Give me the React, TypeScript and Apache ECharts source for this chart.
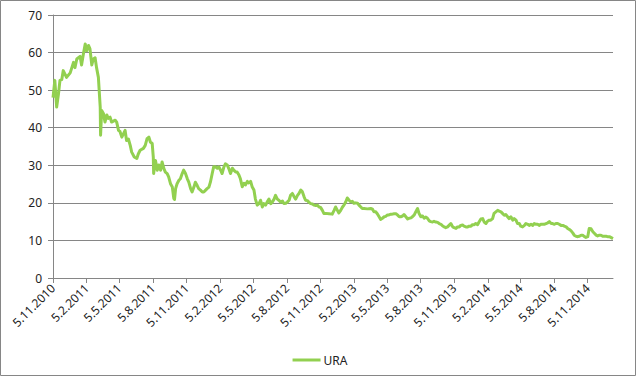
import React, { useEffect, useRef } from "react";
import * as echarts from "echarts";

// Start date of the axis (5.11.2010) and last axis day offset
const startDate = [2010, 10, 5]; // year, month(0-based), day
const lastDay = 1530;

// Data: days since 5.11.2010 and URA closing values
const days = [
  0, 5, 10, 15, 19, 24, 28, 37, 47, 56, 60, 65, 74, 78, 83, 88, 92, 97, 101, 106,
  110, 115, 119, 124, 129, 130, 133, 138, 142, 147, 151, 156, 160, 170, 174, 179, 183, 188, 197, 201,
  206, 211, 215, 222, 229, 233, 238, 247, 252, 257, 262, 266, 271, 274, 275, 280, 285, 289, 294, 298,
  303, 307, 312, 316, 321, 326, 330, 332, 335, 339, 344, 348, 353, 357, 362, 367, 371, 376, 380, 385,
  389, 394, 398, 403, 408, 412, 417, 421, 426, 430, 435, 439, 444, 449, 453, 458, 462, 467, 471, 476,
  480, 485, 490, 494, 499, 503, 508, 512, 517, 522, 526, 531, 535, 540, 544, 549, 553, 558, 563, 567,
  572, 576, 581, 585, 590, 595, 599, 604, 608, 613, 617, 622, 627, 631, 636, 640, 645, 649, 654, 659,
  663, 668, 672, 677, 681, 686, 690, 695, 699, 704, 709, 713, 718, 722, 727, 731, 736, 740, 745, 754,
  763, 768, 772, 777, 781, 786, 791, 795, 800, 804, 809, 813, 818, 822, 827, 832, 836, 841, 845, 850,
  859, 868, 873, 877, 882, 886, 891, 895, 900, 905, 909, 914, 918, 923, 927, 932, 937, 941, 946, 950,
  955, 959, 964, 969, 973, 978, 982, 987, 991, 996, 1000, 1005, 1010, 1014, 1019, 1023, 1028, 1032, 1037, 1041,
  1046, 1051, 1055, 1060, 1064, 1069, 1073, 1078, 1082, 1087, 1092, 1096, 1101, 1105, 1110, 1114, 1119, 1123, 1128, 1133,
  1137, 1142, 1146, 1151, 1155, 1160, 1164, 1169, 1174, 1178, 1183, 1187, 1192, 1196, 1201, 1205, 1210, 1215, 1219, 1224,
  1228, 1233, 1237, 1242, 1246, 1251, 1256, 1260, 1265, 1269, 1274, 1278, 1283, 1288, 1292, 1297, 1301, 1306, 1311, 1315,
  1320, 1324, 1329, 1333, 1338, 1342, 1347, 1352, 1356, 1361, 1365, 1370, 1374, 1379, 1383, 1388, 1393, 1397, 1402, 1406,
  1411, 1415, 1420, 1424, 1429, 1434, 1438, 1443, 1447, 1452, 1456, 1461, 1465, 1470, 1475, 1479, 1484, 1488, 1493, 1497,
  1502, 1506, 1511, 1515, 1520, 1524, 1530,
];

const ura = [
  48, 52.6, 45.5, 49, 52.6, 52.8, 55.2, 53.4, 54.6, 57.4, 56, 58.3, 59, 56.7, 59.6, 62.3, 60.5, 61.9, 61, 56.7,
  58.3, 58.6, 56, 53.4, 45.5, 38, 44.6, 43.7, 41.5, 43.4, 42.5, 42.8, 41.5, 42, 41.5, 39.3, 39, 37.5, 39.3, 36.6,
  37, 35.3, 33.5, 32.2, 31.8, 33, 34, 34.5, 35.3, 37.1, 37.5, 36.2, 35.8, 32.2, 27.8, 31.3, 28.7, 30.1, 28.7, 30.9,
  29.1, 28.2, 27.8, 26.9, 25.1, 24.2, 21.2, 20.9, 23.8, 25.1, 26, 26.4, 27.8, 28.7, 27.8, 26.4, 25.5, 23.8, 22.9, 24.2,
  25.5, 24.6, 23.8, 23.4, 22.9, 22.9, 23.4, 23.8, 24.2, 25.5, 27.8, 29.6, 29.6, 29.2, 29.6, 28.7, 27.8, 29.6, 30.4, 30.1,
  29.2, 27.8, 29.2, 28.7, 28.2, 28.2, 27.4, 26.4, 24.3, 25.2, 24.8, 25.7, 25.3, 25.7, 24.3, 23.4, 21, 19.4, 19.8, 20.7,
  18.9, 19.8, 19.4, 20.2, 21, 19.8, 20.2, 21, 22, 21, 20.7, 20.2, 20.5, 19.8, 19.9, 20.2, 20.7, 22, 22.5, 21.6,
  21, 22, 22.5, 23.4, 23, 21.6, 20.7, 20.6, 20.2, 19.8, 19.7, 19.4, 19.3, 19.4, 18.9, 18.8, 18, 17.2, 17.2, 17.1,
  17, 18, 18.9, 18, 17.3, 18, 18.9, 19.4, 20.3, 21.3, 20.7, 20.3, 20.4, 19.9, 20, 19.9, 19.4, 18.9, 18.5, 18.5,
  18.4, 18.5, 18.3, 17.6, 17.6, 17.1, 16.3, 15.6, 15.9, 16.3, 16.4, 16.8, 16.8, 17, 17, 17.1, 17.1, 16.8, 16.3, 16.3,
  16.5, 16.9, 16.3, 15.7, 15.9, 16, 16.3, 16.8, 17.6, 18.5, 17.2, 16.3, 16.5, 15.9, 16.2, 15.9, 15.2, 15, 14.9, 15.1,
  14.9, 14.8, 14.5, 14.3, 13.9, 13.6, 13.4, 13.6, 14, 14.5, 13.6, 13.4, 13.2, 13.6, 13.6, 14, 14.1, 13.8, 13.6, 13.6,
  13.8, 13.8, 14.2, 14.2, 14.5, 14.2, 14.9, 15.7, 15.8, 14.9, 14.5, 15.1, 15.4, 15.4, 15.8, 17.2, 17.6, 18, 17.8, 17.6,
  17.2, 16.7, 16.9, 16.3, 15.8, 16.3, 15.4, 15.8, 15.4, 14.5, 14.5, 13.8, 13.6, 14, 14.5, 14.3, 14, 14.3, 14, 14.5,
  14.3, 14.3, 14, 14.3, 14.3, 14.3, 14.5, 14.7, 15, 14.5, 14.5, 14.3, 14.5, 14.5, 14.3, 14, 14, 13.8, 13.6, 13.2,
  12.9, 12.6, 12, 11.4, 11.1, 11, 11.1, 11.4, 11.4, 11, 10.8, 11, 13.2, 13.1, 12.3, 11.9, 11.4, 11.2, 11.4, 11.4,
  11.1, 11.1, 11.1, 11, 11, 10.8, 10.5,
];

const tickMonths = [1, 4, 7, 10]; // Feb, May, Aug, Nov (0-based)

export default function App() {
  const ref = useRef<HTMLDivElement>(null);

  useEffect(() => {
    if (!ref.current) return;
    const chart = echarts.init(ref.current, undefined, { renderer: "svg" });
    const t0 = Date.UTC(startDate[0], startDate[1], startDate[2]);
    const cats: string[] = [];
    const isTick: boolean[] = [];
    for (let i = 0; i <= lastDay; i++) {
      const d = new Date(t0 + i * 86400000);
      const dd = d.getUTCDate();
      const mm = d.getUTCMonth();
      cats.push(`${dd}.${mm + 1}.${d.getUTCFullYear()}`);
      isTick.push(dd === 5 && tickMonths.indexOf(mm) >= 0);
    }
    const seriesData = days.map((d, i) => [d, ura[i]]);
    const font = "'Noto Sans', sans-serif";
    chart.setOption({
      animation: false,
      backgroundColor: "#fff",
      grid: { left: 53, right: 27, top: 15, bottom: 100, containLabel: false },
      graphic: [
        {
          type: "rect",
          shape: { x: 0.5, y: 0.5, width: 635, height: 375 },
          style: { fill: "none", stroke: "#868686", lineWidth: 1 },
          silent: true,
        },
      ],
      legend: {
        data: ["URA"],
        left: "center",
        top: 349,
        icon: "rect",
        itemWidth: 28,
        itemHeight: 3,
        itemGap: 4,
        textStyle: { fontFamily: font, fontSize: 12, color: "#222", padding: [0, 0, 0, -2] },
      },
      xAxis: {
        type: "category",
        data: cats,
        boundaryGap: false,
        axisLine: { lineStyle: { color: "#868686", width: 1 } },
        axisTick: {
          show: true,
          interval: (idx: number) => isTick[idx],
          length: 5,
          lineStyle: { color: "#868686" },
        },
        axisLabel: {
          interval: (idx: number) => isTick[idx],
          rotate: 45,
          margin: 8,
          fontFamily: font,
          fontSize: 12,
          color: "#222",
        },
        splitLine: { show: false },
      },
      yAxis: {
        type: "value",
        min: 0,
        max: 70,
        interval: 10,
        axisLine: { show: true, lineStyle: { color: "#868686" } },
        axisTick: { show: true, length: 5, lineStyle: { color: "#868686" } },
        axisLabel: { margin: 11, fontFamily: font, fontSize: 12, color: "#222" },
        splitLine: { lineStyle: { color: "#868686", width: 1 } },
      },
      series: [
        {
          name: "URA",
          type: "line",
          data: seriesData,
          showSymbol: false,
          symbol: "none",
          lineStyle: { color: "#92d050", width: 3, join: "round" },
          itemStyle: { color: "#92d050" },
        },
      ],
    });
    return () => chart.dispose();
  }, []);

  return (
    <div
      ref={ref}
      style={{ position: "absolute", left: 0, top: 0, width: 640, height: 378 }}
    />
  );
}
